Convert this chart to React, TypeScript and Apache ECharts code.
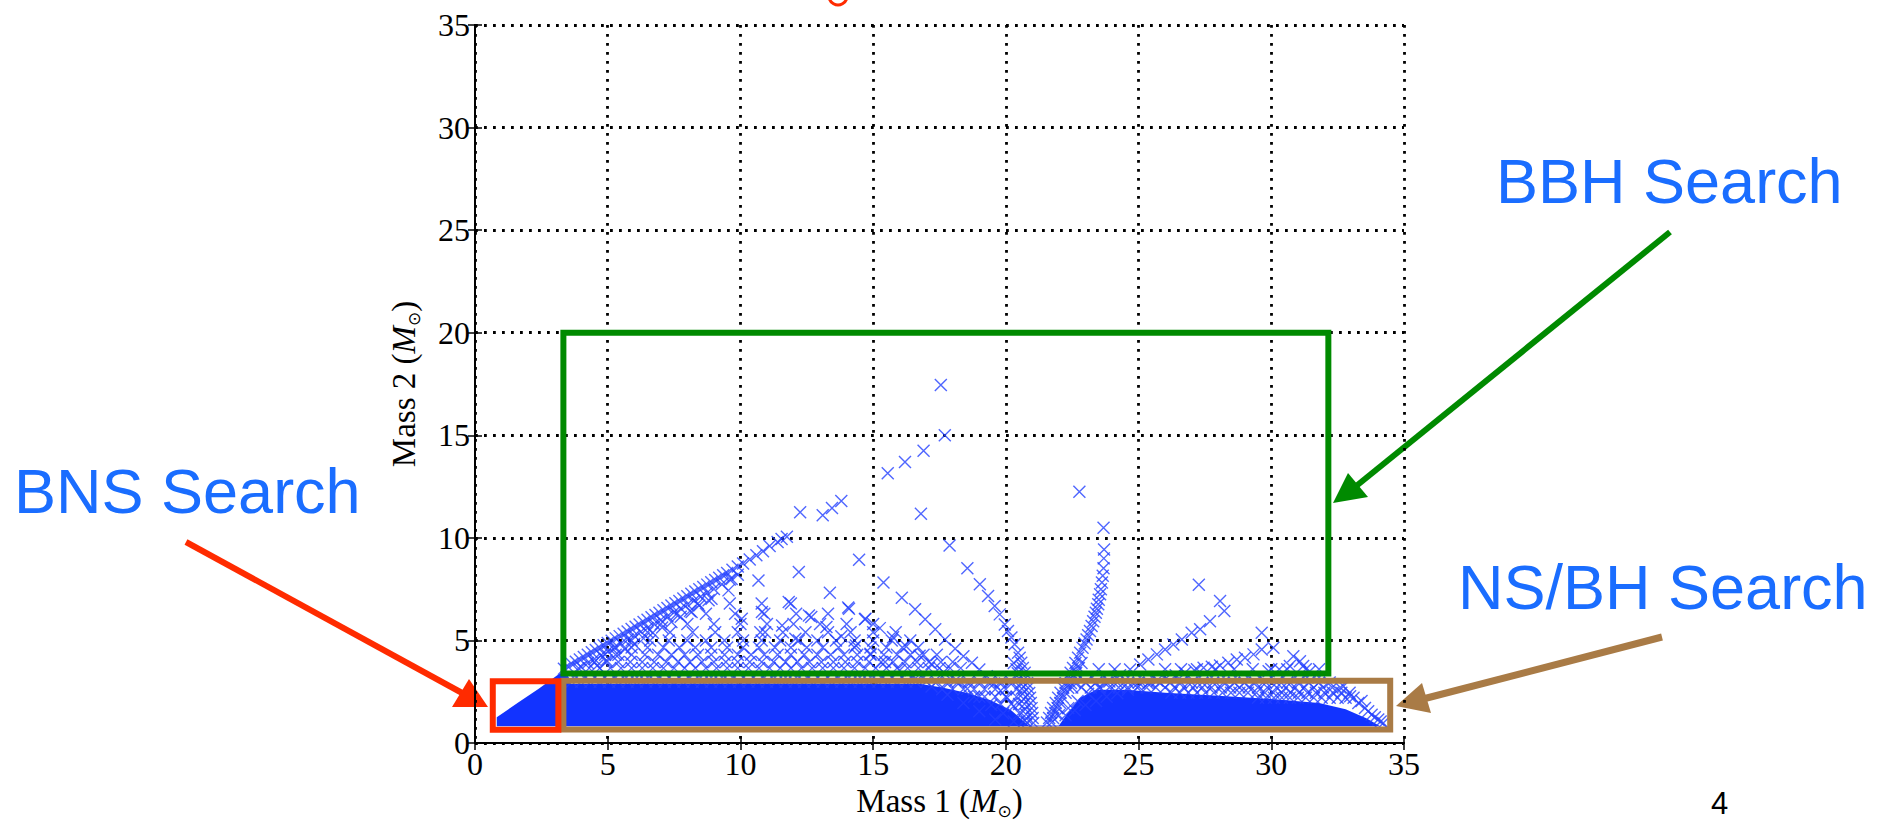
import React, { useEffect, useRef } from 'react';
import * as echarts from 'echarts';

// ---------- axes ----------
const AXIS_MIN = 0;
const AXIS_MAX = 35;
const AXIS_STEP = 5;

// ---------- template-bank points (Mass 1, Mass 2) ----------
const diagMain = [
  [3.35, 3.62], [3.5, 3.73], [3.65, 3.85], [3.8, 3.96], [3.95, 4.07], [4.1, 4.19], [4.25, 4.3], [4.4, 4.42],
  [4.55, 4.53], [4.7, 4.64], [4.85, 4.76], [5.0, 4.87], [5.15, 4.99], [5.3, 5.1], [5.45, 5.21], [5.6, 5.33],
  [5.75, 5.44], [5.9, 5.56], [6.05, 5.67], [6.2, 5.78], [6.35, 5.9], [6.5, 6.01], [6.65, 6.13], [6.8, 6.24],
  [6.95, 6.35], [7.1, 6.47], [7.25, 6.58], [7.4, 6.7], [7.55, 6.81], [7.7, 6.92], [7.85, 7.04], [8.0, 7.15],
  [8.15, 7.27], [8.3, 7.38], [8.45, 7.49], [8.6, 7.61], [8.75, 7.72], [8.9, 7.84], [9.05, 7.95], [9.2, 8.06],
  [9.35, 8.18], [9.5, 8.29], [9.7, 8.44], [9.9, 8.6], [10.1, 8.75], [10.35, 8.94], [10.6, 9.15], [10.85, 9.35],
  [11.1, 9.6], [11.4, 9.8], [11.55, 9.95], [11.75, 10.05],
];
const diagSecond = [
  [4.0, 3.71], [4.25, 3.9], [4.5, 4.09], [4.75, 4.28], [5.0, 4.47], [5.25, 4.66], [5.5, 4.85], [5.75, 5.04],
  [6.0, 5.23], [6.25, 5.42], [6.5, 5.61], [6.75, 5.8], [7.0, 5.99], [7.25, 6.18], [7.5, 6.37], [7.75, 6.56],
  [8.0, 6.75], [8.25, 6.94], [8.5, 7.13], [8.75, 7.32], [9.0, 7.51], [9.3, 7.74], [9.6, 7.97], [9.9, 8.2],
];
const diagThird = [
  [4.6, 3.77], [4.95, 4.04], [5.3, 4.3], [5.65, 4.57], [6.0, 4.83], [6.35, 5.1], [6.7, 5.37], [7.05, 5.63],
  [7.4, 5.9], [7.75, 6.16], [8.1, 6.43], [8.45, 6.7], [8.8, 6.96],
];
const highPoints = [
  [12.25, 11.25], [13.1, 11.1], [13.45, 11.45], [13.8, 11.8], [15.55, 13.15], [16.2, 13.7], [16.9, 14.25],
  [17.7, 15.0], [17.55, 17.45], [16.8, 11.17], [22.77, 12.25], [14.47, 8.93], [12.2, 8.33], [10.68, 7.92],
  [9.67, 8.0], [8.91, 7.03], [9.55, 7.44], [8.16, 6.38], [10.81, 6.38], [11.57, 5.73], [11.82, 6.87],
  [12.58, 6.22], [14.09, 6.54], [10.05, 6.06], [10.93, 5.4], [12.07, 5.08], [14.69, 6.03],
];
const rayR1 = [
  [17.88, 9.63], [18.55, 8.52], [19.02, 7.74], [19.33, 7.17], [19.58, 6.68], [19.77, 6.27], [19.96, 5.78],
  [20.08, 5.46], [20.21, 5.14], [20.33, 4.81], [20.46, 4.4], [20.52, 4.15], [20.58, 3.91], [20.64, 3.66],
  [20.71, 3.42], [20.75, 3.18], [20.8, 2.93], [20.84, 2.69], [20.88, 2.44], [20.91, 2.2], [20.94, 1.95],
  [20.97, 1.7], [20.99, 1.46], [21.01, 1.22], [21.03, 0.97],
];
const rayR1Side = [
  [20.3, 3.9], [20.4, 3.6], [20.45, 3.4], [20.5, 3.15], [20.55, 2.9], [20.6, 2.65], [20.63, 2.4], [20.67, 2.15],
  [20.7, 1.9], [20.73, 1.65], [20.76, 1.4], [20.78, 1.2], [20.8, 1.0],
];
const rayR2 = [
  [15.39, 7.82], [16.08, 7.08], [16.58, 6.52], [16.96, 6.03], [17.34, 5.54], [17.71, 5.05], [18.09, 4.59],
  [18.4, 4.23], [18.72, 3.91], [19.0, 3.58], [19.28, 3.26], [19.55, 2.9], [19.8, 2.55], [20.05, 2.2],
  [20.3, 1.8], [20.5, 1.45], [20.7, 1.1],
];
const rayR3 = [
  [13.37, 7.33], [14.06, 6.6], [14.71, 6.06], [15.25, 5.6], [15.75, 5.15], [16.25, 4.7], [16.75, 4.25],
  [17.2, 3.85], [17.65, 3.45], [18.1, 3.05], [18.55, 2.65], [19.0, 2.25], [19.45, 1.85], [19.9, 1.45], [20.3, 1.05],
];
const rayR4 = [
  [12.67, 6.14], [13.24, 5.65], [13.8, 5.2], [14.35, 4.75], [14.9, 4.35], [15.45, 3.95], [16.0, 3.55],
  [16.6, 3.15], [17.2, 2.75], [17.8, 2.35], [18.4, 1.95], [19.0, 1.55], [19.6, 1.15],
];
const rayRight = [
  [23.68, 10.49], [23.7, 9.43], [23.69, 9.0], [23.68, 8.52], [23.65, 8.15], [23.62, 7.82], [23.58, 7.5],
  [23.55, 7.25], [23.5, 6.98], [23.48, 6.76], [23.43, 6.55], [23.39, 6.35], [23.34, 6.15], [23.29, 5.94],
  [23.23, 5.7], [23.17, 5.46], [23.1, 5.25], [23.04, 5.05], [22.97, 4.85], [22.89, 4.64], [22.8, 4.4],
  [22.72, 4.15], [22.62, 3.9], [22.53, 3.66], [22.44, 3.42], [22.34, 3.18], [22.25, 2.93], [22.16, 2.69],
  [22.06, 2.45], [21.97, 2.2], [21.88, 1.95], [21.78, 1.71], [21.7, 1.46], [21.63, 1.22], [21.55, 1.0],
];
const rayRightSide = [
  [22.85, 3.9], [22.75, 3.66], [22.65, 3.42], [22.55, 3.18], [22.45, 2.93], [22.35, 2.69], [22.25, 2.45],
  [22.15, 2.2], [22.05, 1.95], [21.95, 1.71], [21.86, 1.46], [21.78, 1.22], [21.72, 1.0],
];
const rayF1 = [
  [27.27, 7.71], [28.07, 6.92], [28.23, 6.43], [27.69, 5.94], [27.32, 5.54], [27.0, 5.38], [26.63, 5.05],
  [26.31, 4.8], [26.0, 4.56], [25.69, 4.32], [25.37, 4.07], [25.06, 3.83], [24.68, 3.58], [24.3, 3.3],
  [23.9, 3.0], [23.5, 2.7], [23.1, 2.4], [22.7, 2.05], [22.35, 1.7], [22.0, 1.35],
];
const rayF2 = [
  [29.64, 5.38], [30.08, 4.64], [29.64, 4.56], [29.33, 4.32], [29.01, 4.15], [28.7, 4.07], [28.38, 3.91],
  [28.07, 3.78], [27.76, 3.72], [27.45, 3.67], [27.1, 3.55], [26.75, 3.42], [26.4, 3.3], [26.05, 3.17],
  [25.7, 3.05], [25.35, 2.9], [25.0, 2.75], [24.6, 2.6], [24.2, 2.42], [23.8, 2.25], [23.4, 2.05],
  [23.0, 1.85], [22.6, 1.6], [22.25, 1.35],
];
const rayF3 = [
  [30.83, 4.23], [31.08, 3.99], [30.7, 3.75], [31.2, 3.75], [31.45, 3.5], [30.3, 3.6], [29.9, 3.5],
];
const staircase = [
  [32.72, 2.77], [32.97, 2.28], [33.28, 1.95], [33.53, 1.71], [33.78, 1.38], [34.03, 1.14], [34.22, 0.98],
  [33.4, 2.05], [33.65, 1.55], [33.9, 1.25], [34.12, 1.05],
];

// rows of the cross-hatched fringe: one Mass 2 value and its Mass 1 values
const fringeRows = [
  { y: 2.98, xs: [3.65, 4.0, 4.35, 4.7, 5.05, 5.4, 5.75, 6.1, 6.45, 6.8, 7.15, 7.5, 7.85, 8.2, 8.55, 8.9, 9.25, 9.6, 9.95, 10.3, 10.65, 11.0, 11.35, 11.7, 12.05, 12.4, 12.75, 13.1, 13.45, 13.8, 14.15, 14.5, 14.85, 15.2, 15.55, 15.9, 16.25, 16.6, 17.0, 17.4, 17.8, 18.2, 18.6, 19.0, 19.4, 19.8, 20.2] },
  { y: 3.2, xs: [3.7, 4.1, 4.5, 4.9, 5.3, 5.7, 6.1, 6.5, 6.9, 7.3, 7.7, 8.1, 8.5, 8.9, 9.3, 9.7, 10.1, 10.5, 10.9, 11.3, 11.7, 12.1, 12.5, 12.9, 13.3, 13.7, 14.1, 14.5, 14.9, 15.3, 15.7, 16.1, 16.5, 16.9] },
  { y: 2.62, xs: [17.6, 18.0, 18.4, 18.8, 19.2, 19.6, 20.0, 20.4] },
  { y: 2.25, xs: [18.8, 19.2, 19.6, 20.0, 20.4] },
  { y: 1.9, xs: [19.8, 20.2, 20.5] },
  { y: 3.65, xs: [3.9, 4.3, 4.7, 5.1, 5.5, 5.9, 6.3, 6.7, 7.1, 7.5, 7.9, 8.3, 8.7, 9.1, 9.5, 9.9, 10.3, 10.7, 11.1, 11.5, 11.9, 12.3, 12.7, 13.1, 13.5, 13.9, 14.3, 14.7, 15.1, 15.5, 15.9, 16.3, 16.7, 17.1, 17.5, 17.9, 18.3] },
  { y: 3.95, xs: [4.5, 4.95, 5.4, 5.85, 6.3, 6.75, 7.2, 7.65, 8.1, 8.55, 9.0, 9.45, 9.9, 10.35, 10.8, 11.25, 11.7, 12.15, 12.6, 13.05, 13.5, 13.95, 14.4, 14.85, 15.3, 15.75, 16.2, 16.65, 17.1, 17.55, 18.0] },
  { y: 4.3, xs: [4.9, 5.4, 5.9, 6.4, 6.9, 7.4, 7.9, 8.4, 8.9, 9.4, 9.9, 10.4, 10.9, 11.4, 11.9, 12.4, 12.9, 13.4, 13.9, 14.4, 14.9, 15.4, 15.9, 16.4, 16.9, 17.4] },
  { y: 4.65, xs: [5.3, 5.9, 6.5, 7.1, 7.7, 8.3, 8.9, 9.5, 10.1, 10.7, 11.3, 11.9, 12.5, 13.1, 13.7, 14.3, 14.9, 15.5, 16.1, 16.7] },
  { y: 5.0, xs: [5.9, 6.6, 7.3, 8.0, 8.7, 9.4, 10.1, 10.8, 11.5, 12.2, 12.9, 13.6, 14.3, 15.0, 15.7, 16.4] },
  { y: 5.4, xs: [6.5, 7.35, 8.2, 9.05, 9.9, 10.75, 11.6, 12.45, 13.3, 14.15, 15.0, 15.85] },
  { y: 5.8, xs: [7.0, 8.0, 9.0, 10.0, 11.0, 12.0, 13.0, 14.0, 15.0] },
  { y: 6.3, xs: [7.6, 8.7, 9.8, 10.9, 12.1, 13.3] },
  { y: 6.8, xs: [8.4, 9.6, 10.8, 11.9] },
  { y: 3.6, xs: [23.5, 24.1, 26.0, 26.6, 27.2, 27.9, 28.6, 29.3, 30.0, 30.6, 31.3, 31.8] },
  { y: 3.2, xs: [22.8, 23.25, 23.7, 24.15, 24.6, 25.05, 25.5, 25.95, 26.4, 26.85, 27.3, 27.75, 28.2, 28.65, 29.1, 29.55, 30.0, 30.45, 30.9, 31.35, 31.8] },
  { y: 2.95, xs: [22.6, 23.0, 23.4, 23.8, 24.2, 24.6, 25.0, 25.4, 25.8, 26.2, 26.6, 27.0, 27.4, 27.8, 28.2, 28.6, 29.0, 29.4, 29.8, 30.2, 30.6, 31.0, 31.4, 31.8, 32.2] },
  { y: 2.7, xs: [22.5, 22.85, 23.2, 23.55, 23.9, 24.25, 24.6, 24.95, 25.3, 25.65, 26.0, 26.35, 26.7, 27.05, 27.4, 27.75, 28.1, 28.45, 28.8, 29.15, 29.5, 29.85, 30.2, 30.55, 30.9, 31.25, 31.6, 31.95, 32.3, 32.6] },
  { y: 2.45, xs: [26.24, 26.56, 26.88, 27.2, 27.52, 27.84, 28.16, 28.48, 28.8, 29.12, 29.44, 29.76, 30.08, 30.4, 30.72, 31.04, 31.36, 31.68, 32.0, 32.32, 32.64, 32.95] },
  { y: 2.2, xs: [29.5, 29.8, 30.1, 30.4, 30.7, 31.0, 31.3, 31.6, 31.9, 32.2, 32.5, 32.8, 33.1] },
];

// solid core of the bank, where the crosses merge (outline)
const corePoly = [
  [0.82, 0.82], [0.82, 1.25], [1.6, 1.95], [2.4, 2.65], [3.1, 3.3], [3.35, 3.5], [3.5, 3.3], [3.6, 2.88],
  [8.0, 2.9], [12.0, 2.9], [16.8, 2.88], [17.6, 2.7], [18.5, 2.45], [19.4, 2.1], [20.2, 1.6], [20.85, 0.85],
  [22.0, 0.85], [22.3, 1.4], [22.8, 2.2], [23.4, 2.6], [24.5, 2.6], [26.0, 2.45], [28.0, 2.3], [30.0, 2.15],
  [31.8, 1.95], [32.8, 1.65], [33.6, 1.2], [34.1, 0.82],
];

// search regions (Mass 1 range, Mass 2 range)
const bnsBox = { x: [0.67, 3.14], y: [0.65, 3.01] };
const nsbhBox = { x: [3.33, 34.48], y: [0.66, 3.03] };
const bbhBox = { x: [3.33, 32.15], y: [3.39, 20.0] };

// ---------- styles ----------
const MARKER = '#2340ff';
const CORE = '#1233ff';
const LABEL_BLUE = '#1a6dff';
const RED = '#ff2b00';
const GREEN = '#008a00';
const BROWN = '#a97b46';
const SERIF = '"Liberation Serif", "DejaVu Serif", serif';
const SANS = '"Liberation Sans", Arial, sans-serif';
const X_SYMBOL = 'path://M0,0L10,10M10,0L0,10';

const boxPath = (b: { x: number[]; y: number[] }) => [
  [b.x[0], b.y[0]], [b.x[1], b.y[0]], [b.x[1], b.y[1]], [b.x[0], b.y[1]], [b.x[0], b.y[0]], [b.x[1], b.y[0]],
];

const markerSeries = (data: number[][]) => ({
  type: 'scatter',
  data,
  symbol: X_SYMBOL,
  symbolSize: 12,
  itemStyle: { color: 'none', borderColor: MARKER, borderWidth: 1.4 },
  silent: true,
  z: 3,
});

const boxSeries = (b: { x: number[]; y: number[] }, color: string) => ({
  type: 'line',
  data: boxPath(b),
  symbol: 'none',
  clip: false,
  silent: true,
  z: 6,
  lineStyle: { color, width: 6, cap: 'square', join: 'miter' },
});

const nameRich = {
  a: { fontFamily: SERIF, fontSize: 33, color: '#000', lineHeight: 36 },
  b: { fontFamily: SERIF, fontSize: 33, fontStyle: 'italic', color: '#000', lineHeight: 36 },
  c: { fontFamily: 'DejaVu Sans', fontSize: 17, color: '#000', lineHeight: 14, verticalAlign: 'bottom' },
};

const gridDots = { color: '#000', width: 2.8, type: [2.8, 6.2] };

const tickLabel = { color: '#000', fontFamily: SERIF, fontSize: 32, lineHeight: 28 };

const axisBase = {
  type: 'value',
  min: AXIS_MIN,
  max: AXIS_MAX,
  interval: AXIS_STEP,
  nameMoveOverlap: false,
  axisLine: { show: true, lineStyle: { color: '#000', width: 2 } },
  axisTick: { show: true, inside: true, length: 7, lineStyle: { color: '#000', width: 1.5 } },
};

export default function App() {
  const ref = useRef<HTMLDivElement>(null);
  useEffect(() => {
    if (!ref.current) return;
    const chart = echarts.init(ref.current, undefined, { renderer: 'svg' });
    const rowSeries = fringeRows.map((r) => markerSeries(r.xs.map((x) => [x, r.y])));
    const option = {
      animation: false,
      backgroundColor: '#fff',
      grid: { left: 475, top: 25, width: 929, height: 718, containLabel: false, outerBoundsMode: 'none' },
      xAxis: [
        {
          ...axisBase,
          position: 'bottom',
          name: '{a|Mass 1 (}{b|M}{c|⊙}{a|)}',
          nameLocation: 'middle',
          nameGap: 40,
          nameTextStyle: { rich: nameRich },
          axisLabel: { ...tickLabel, margin: 7 },
          splitLine: { show: true, lineStyle: gridDots },
        },
        {
          ...axisBase,
          position: 'top',
          axisLabel: { show: false },
          splitLine: { show: false },
        },
      ],
      yAxis: [
        {
          ...axisBase,
          position: 'left',
          name: '{a|Mass 2 (}{b|M}{c|⊙}{a|)}',
          nameLocation: 'middle',
          nameGap: 53,
          nameTextStyle: { rich: nameRich },
          axisLabel: { ...tickLabel, margin: 5 },
          splitLine: { show: true, lineStyle: gridDots },
        },
        {
          ...axisBase,
          position: 'right',
          axisLabel: { show: false },
          splitLine: { show: false },
        },
      ],
      series: [
        {
          type: 'custom',
          coordinateSystem: 'cartesian2d',
          data: corePoly,
          encode: { x: 0, y: 1 },
          silent: true,
          z: 2,
          renderItem: (params: any, api: any) => {
            if (params.dataIndex !== 0) return null;
            const pts = corePoly.map((p) => api.coord(p));
            return { type: 'polygon', shape: { points: pts }, style: { fill: CORE } };
          },
        },
        markerSeries(diagMain),
        markerSeries(diagSecond),
        markerSeries(diagThird),
        markerSeries(highPoints),
        markerSeries(rayR1),
        markerSeries(rayR1Side),
        markerSeries(rayR2),
        markerSeries(rayR3),
        markerSeries(rayR4),
        markerSeries(rayRight),
        markerSeries(rayRightSide),
        markerSeries(rayF1),
        markerSeries(rayF2),
        markerSeries(rayF3),
        markerSeries(staircase),
        ...rowSeries,
        boxSeries(nsbhBox, BROWN),
        boxSeries(bbhBox, GREEN),
        boxSeries(bnsBox, RED),
      ],
      graphic: [
        { type: 'circle', shape: { cx: 838, cy: -4, r: 9 }, style: { fill: 'none', stroke: RED, lineWidth: 3 } },
        { type: 'text', x: 14, y: 491, style: { text: 'BNS Search', font: `63px ${SANS}`, fill: LABEL_BLUE, align: 'left', verticalAlign: 'middle' } },
        { type: 'text', x: 1496, y: 181, style: { text: 'BBH Search', font: `63px ${SANS}`, fill: LABEL_BLUE, align: 'left', verticalAlign: 'middle' } },
        { type: 'text', x: 1458, y: 587, style: { text: 'NS/BH Search', font: `63px ${SANS}`, fill: LABEL_BLUE, align: 'left', verticalAlign: 'middle' } },
        { type: 'text', x: 1711, y: 803, style: { text: '4', font: `31px ${SANS}`, fill: '#000', align: 'left', verticalAlign: 'middle' } },
        // BNS arrow (red)
        { type: 'line', shape: { x1: 186, y1: 542, x2: 464, y2: 694 }, style: { stroke: RED, lineWidth: 6 } },
        { type: 'polygon', shape: { points: [[488, 707], [452, 707], [469, 679]] }, style: { fill: RED } },
        // BBH arrow (green)
        { type: 'line', shape: { x1: 1670, y1: 232, x2: 1355, y2: 487 }, style: { stroke: GREEN, lineWidth: 6 } },
        { type: 'polygon', shape: { points: [[1333, 503], [1348, 473], [1368, 497]] }, style: { fill: GREEN } },
        // NS/BH arrow (brown)
        { type: 'line', shape: { x1: 1662, y1: 637, x2: 1423, y2: 699 }, style: { stroke: BROWN, lineWidth: 7 } },
        { type: 'polygon', shape: { points: [[1396, 706], [1422, 683], [1431, 713]] }, style: { fill: BROWN } },
      ],
    };
    chart.setOption(option as any);
    return () => chart.dispose();
  }, []);
  return (
    <div
      ref={ref}
      style={{ position: 'absolute', left: 0, top: 0, width: 1889, height: 820, background: '#fff' }}
    />
  );
}
